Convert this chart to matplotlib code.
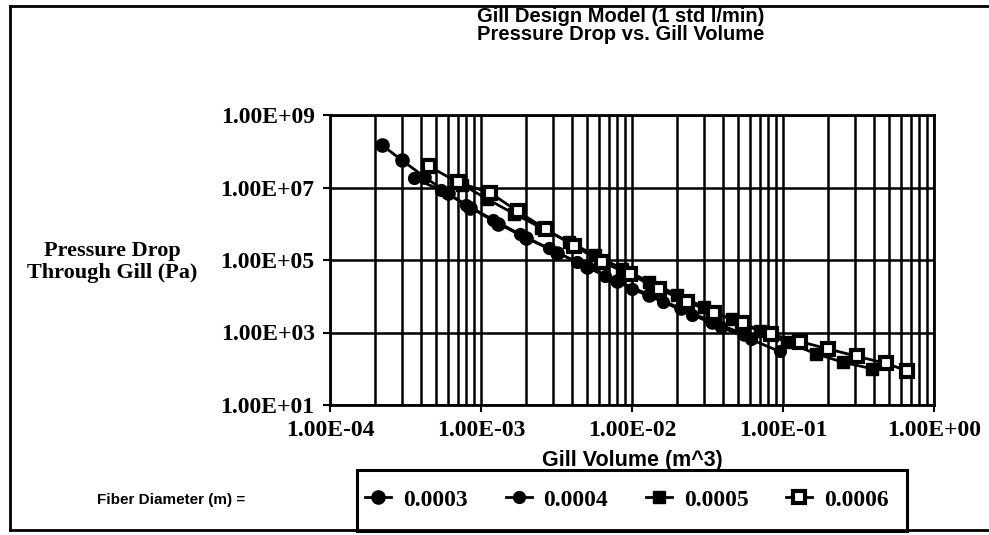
import numpy as np
import matplotlib
matplotlib.use("Agg")
import matplotlib.pyplot as plt
from matplotlib.lines import Line2D
from matplotlib.patches import Rectangle
from matplotlib.ticker import FixedLocator, LogLocator, FuncFormatter, NullLocator

# Gill volume (m^3) vs pressure drop (Pa), one series per fiber diameter
vol_03 = [2.2e-4, 3.0e-4, 4.2e-4, 6.0e-4, 8.5e-4, 1.3e-3, 2.0e-3, 3.2e-3,
          5.0e-3, 8.0e-3, 1.3e-2, 2.1e-2, 3.4e-2, 5.5e-2]
dp_03 = [1.5e8, 5.6e7, 2.0e7, 7.0e6, 2.8e6, 1.0e6, 4.0e5, 1.6e5,
         6.5e4, 2.6e4, 1.1e4, 4.6e3, 2.0e3, 9.0e2]

vol_04 = [3.6e-4, 5.4e-4, 8.0e-4, 1.2e-3, 1.8e-3, 2.8e-3, 4.3e-3, 6.6e-3,
          1.0e-2, 1.6e-2, 2.5e-2, 3.9e-2, 6.1e-2, 9.5e-2]
dp_04 = [1.8e7, 8.5e6, 3.3e6, 1.3e6, 5.2e5, 2.1e5, 8.8e4, 3.7e4,
         1.6e4, 7.0e3, 3.1e3, 1.4e3, 6.5e2, 3.0e2]

vol_05 = [7.5e-4, 1.1e-3, 1.65e-3, 2.5e-3, 3.8e-3, 5.7e-3, 8.6e-3, 1.3e-2,
          2.0e-2, 3.0e-2, 4.6e-2, 7.0e-2, 1.07e-1, 1.65e-1, 2.5e-1, 3.9e-1]
dp_05 = [1.2e7, 4.8e6, 1.9e6, 7.8e5, 3.2e5, 1.35e5, 5.8e4, 2.5e4,
         1.1e4, 5.0e3, 2.3e3, 1.1e3, 5.3e2, 2.6e2, 1.5e2, 1.0e2]

vol_06 = [4.5e-4, 7.0e-4, 1.15e-3, 1.75e-3, 2.7e-3, 4.1e-3, 6.3e-3, 9.7e-3,
          1.5e-2, 2.3e-2, 3.5e-2, 5.4e-2, 8.3e-2, 1.3e-1, 2.0e-1, 3.1e-1,
          4.8e-1, 6.6e-1]
dp_06 = [3.9e7, 1.4e7, 7.1e6, 2.2e6, 7.0e5, 2.5e5, 8.9e4, 4.0e4,
         1.6e4, 7.1e3, 3.5e3, 1.8e3, 8.9e2, 5.6e2, 3.5e2, 2.2e2,
         1.4e2, 8.9e1]

fiber_labels = ["0.0003", "0.0004", "0.0005", "0.0006"]
y_ticks = [1e1, 1e3, 1e5, 1e7, 1e9]
x_ticks = [1e-4, 1e-3, 1e-2, 1e-1, 1e0]

W, H = 989, 535
fig = plt.figure(figsize=(W / 100, H / 100), dpi=100)
ax = fig.add_axes([330 / W, 1 - 405 / H, 604 / W, 290 / H])

serif = "Liberation Serif"
sans = "Liberation Sans"

styles = [
    dict(marker="o", ms=9.5, mfc="black"),
    dict(marker="o", ms=8.5, mfc="black"),
    dict(marker="s", ms=8.5, mfc="black"),
    dict(marker="s", ms=9, mfc="white", mew=3),
]
series = [(vol_03, dp_03), (vol_04, dp_04), (vol_05, dp_05), (vol_06, dp_06)]
for (xv, yv), st, lab in zip(series, styles, fiber_labels):
    ax.plot(xv, yv, color="black", lw=2, mec="black", label=lab, zorder=3, **st)

ax.set_xscale("log")
ax.set_yscale("log")
ax.set_xlim(1e-4, 1e0)
ax.set_ylim(1e1, 1e9)

ax.xaxis.set_major_locator(FixedLocator(x_ticks))
ax.xaxis.set_minor_locator(LogLocator(base=10, subs=np.arange(2, 10)))
ax.yaxis.set_major_locator(FixedLocator(y_ticks))
ax.yaxis.set_minor_locator(NullLocator())
fmt = FuncFormatter(lambda v, p: f"{v:.2E}")
ax.xaxis.set_major_formatter(fmt)
ax.yaxis.set_major_formatter(fmt)

ax.grid(True, which="major", axis="both", color="black", lw=1.8)
ax.grid(True, which="minor", axis="x", color="black", lw=1.8)
ax.set_axisbelow(True)
for sp in ax.spines.values():
    sp.set_linewidth(2)

ax.tick_params(axis="both", which="major", length=5, width=1.5, pad=6,
               labelsize=17, direction="out")
ax.tick_params(axis="x", which="minor", length=0)
for t in ax.get_xticklabels() + ax.get_yticklabels():
    t.set_fontfamily(serif)
    t.set_fontweight("bold")

ax.set_xlabel("Gill Volume (m^3)", fontsize=15.5, fontweight="bold",
              fontfamily=sans, labelpad=6)
ax.set_ylabel("Pressure Drop\nThrough Gill (Pa)", fontsize=16, fontfamily=serif,
              fontweight="bold", rotation=0, ha="center", va="center",
              linespacing=1.15)
ax.yaxis.set_label_coords((112 - 330) / 604, (405 - 262) / 290)

fig.text(621 / W, 1 - 17 / H, "Gill Design Model (1 std l/min)", ha="center",
         va="center", fontsize=14.5, fontweight="bold", fontfamily=sans)
fig.text(621 / W, 1 - 35 / H, "Pressure Drop vs. Gill Volume", ha="center",
         va="center", fontsize=14.5, fontweight="bold", fontfamily=sans)

fig.text(171 / W, 1 - 500 / H, "Fiber Diameter (m) =", ha="center", va="center",
         fontsize=11, fontweight="bold", fontfamily=sans)

# legend box
lx0, lx1, ly0, ly1 = 357, 907, 470, 531
fig.add_artist(Rectangle((lx0 / W, 1 - ly1 / H), (lx1 - lx0) / W, (ly1 - ly0) / H,
                         transform=fig.transFigure, fill=False, ec="black", lw=2.2))
leg = ax.legend(loc="center", bbox_to_anchor=((lx0 + lx1) / 2 / W - 0.005, 1 - 500 / H),
                bbox_transform=fig.transFigure, ncol=4, frameon=False,
                handlelength=1.1, handletextpad=0.5, columnspacing=1.6,
                prop={"family": serif, "weight": "bold", "size": 17})

# outer frame (top, left, bottom)
fx0, fy_top, fy_bot = 10 / W, 1 - 6 / H, 1 - 530 / H
for xs, ys in [([fx0, 1], [fy_top, fy_top]), ([fx0, fx0], [fy_bot, fy_top]),
               ([fx0, 1], [fy_bot, fy_bot])]:
    fig.add_artist(Line2D(xs, ys, transform=fig.transFigure, color="black", lw=2))

fig.savefig("out.png", dpi=100)
